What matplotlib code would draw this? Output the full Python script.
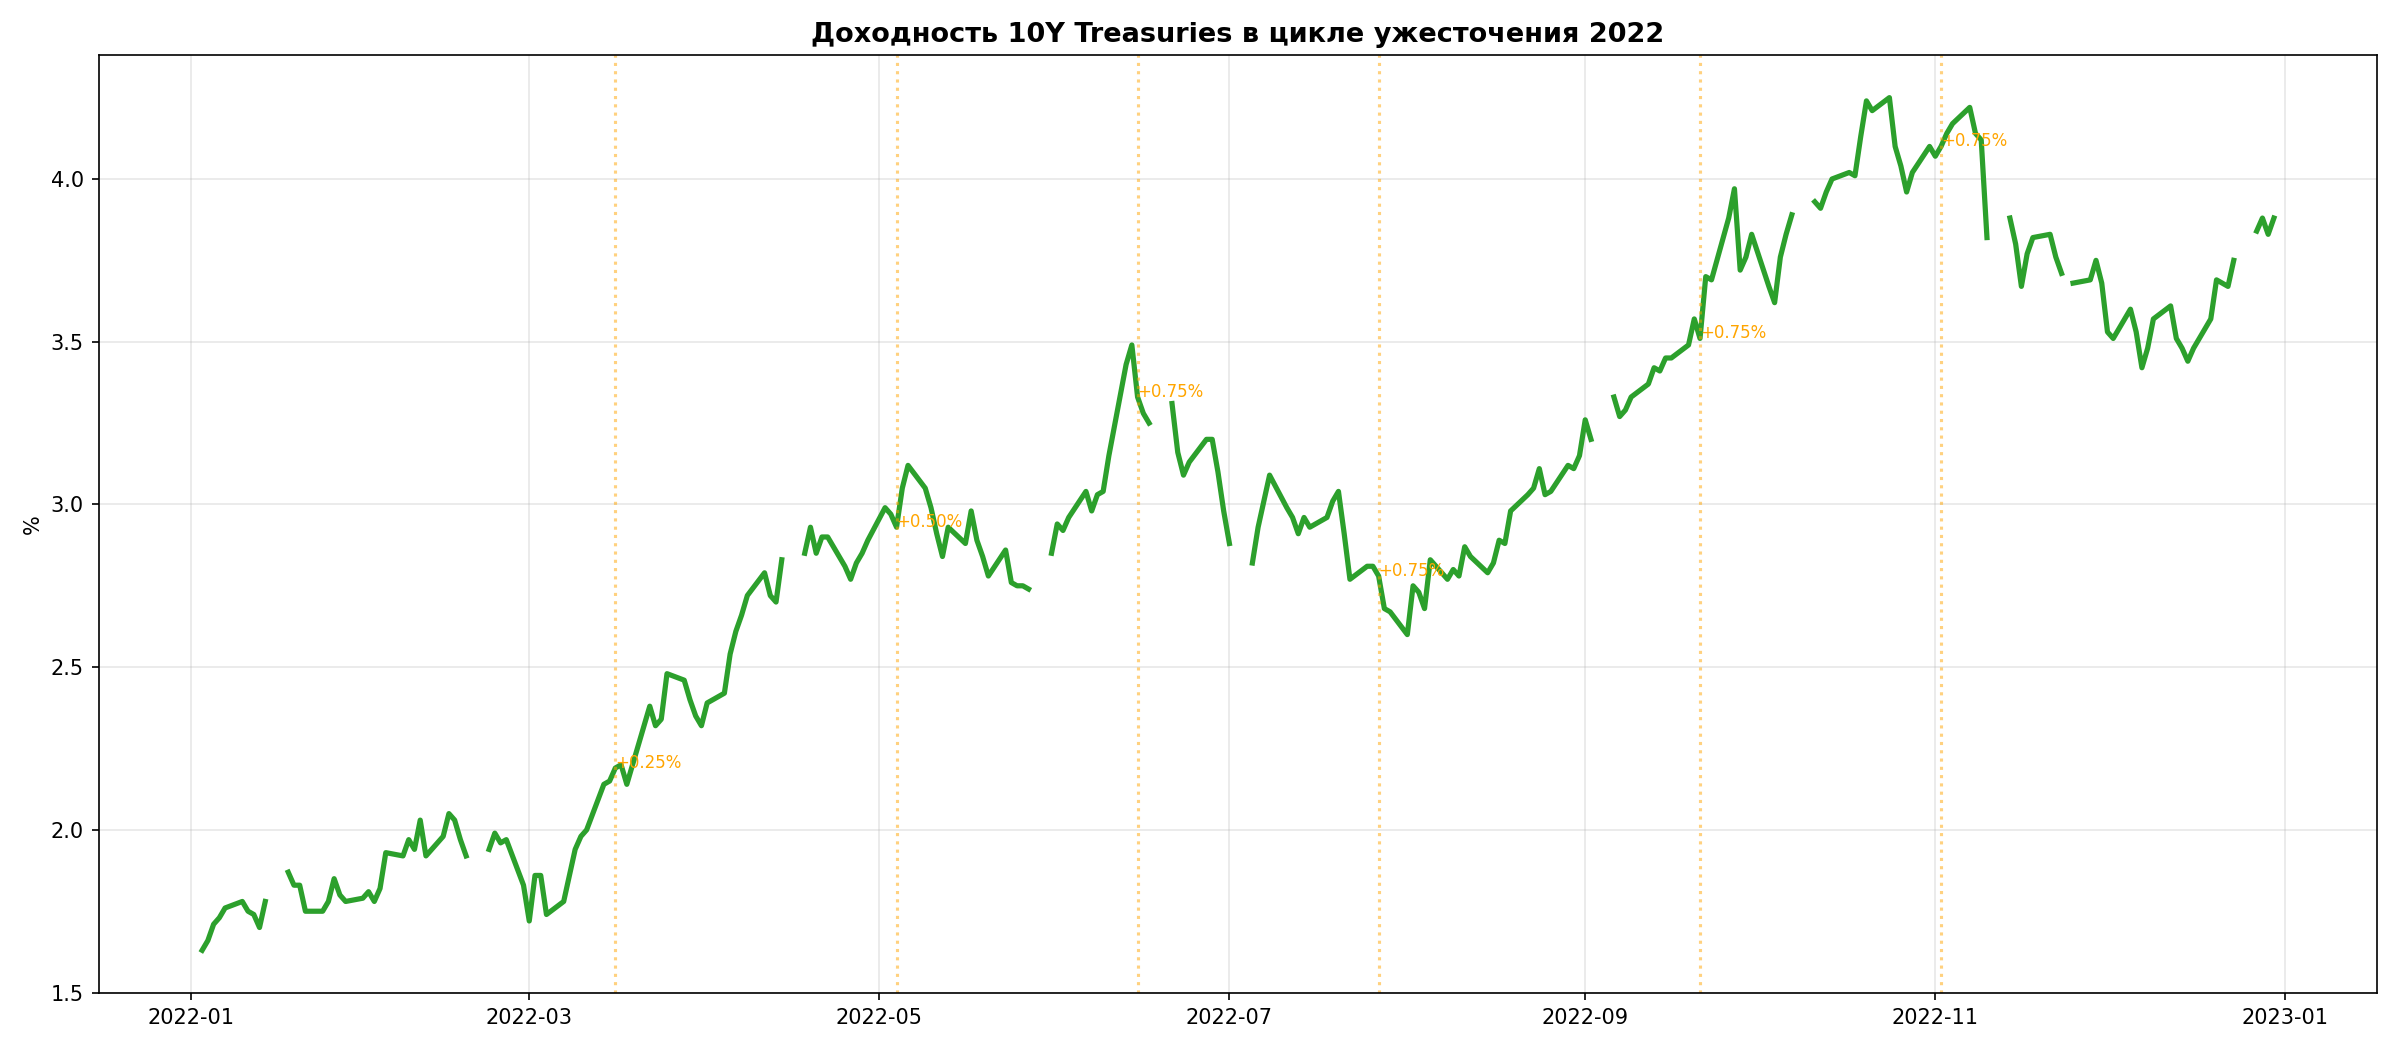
import numpy as np
import pandas as pd
import matplotlib
matplotlib.use("Agg")
from matplotlib import pyplot as plt

nan = np.nan

# 10Y Treasury yield, business days of each month (nan = market holiday)
jan = [1.63, 1.66, 1.71, 1.73, 1.76, 1.78, 1.75, 1.74, 1.70, 1.78, nan,
       1.87, 1.83, 1.83, 1.75, 1.75, 1.78, 1.85, 1.80, 1.78, 1.79]
feb = [1.81, 1.78, 1.82, 1.93, 1.92, 1.97, 1.94, 2.03, 1.92, 1.98,
       2.05, 2.03, 1.97, 1.92, nan, 1.94, 1.99, 1.96, 1.97, 1.83]
mar = [1.72, 1.86, 1.86, 1.74, 1.78, 1.86, 1.94, 1.98, 2.00, 2.14, 2.15, 2.19,
       2.20, 2.14, 2.32, 2.38, 2.32, 2.34, 2.48, 2.46, 2.40, 2.35, 2.32]
apr = [2.39, 2.42, 2.54, 2.61, 2.66, 2.72, 2.79, 2.72, 2.70, 2.83, nan,
       2.85, 2.93, 2.85, 2.90, 2.90, 2.81, 2.77, 2.82, 2.85, 2.89]
may = [2.99, 2.97, 2.93, 3.05, 3.12, 3.05, 2.99, 2.91, 2.84, 2.93, 2.88,
       2.98, 2.89, 2.84, 2.78, 2.86, 2.76, 2.75, 2.75, 2.74, nan, 2.85]
jun = [2.94, 2.92, 2.96, 3.04, 2.98, 3.03, 3.04, 3.15, 3.43, 3.49, 3.33,
       3.28, 3.25, nan, 3.31, 3.16, 3.09, 3.13, 3.20, 3.20, 3.10, 2.98]
jul = [2.88, nan, 2.82, 2.93, 3.01, 3.09, 2.99, 2.96, 2.91, 2.96, 2.93,
       2.96, 3.01, 3.04, 2.91, 2.77, 2.81, 2.81, 2.78, 2.68, 2.67]
aug = [2.60, 2.75, 2.73, 2.68, 2.83, 2.77, 2.80, 2.78, 2.87, 2.84, 2.79, 2.82,
       2.89, 2.88, 2.98, 3.03, 3.05, 3.11, 3.03, 3.04, 3.12, 3.11, 3.15]
sep = [3.26, 3.20, nan, 3.33, 3.27, 3.29, 3.33, 3.37, 3.42, 3.41, 3.45,
       3.45, 3.49, 3.57, 3.51, 3.70, 3.69, 3.88, 3.97, 3.72, 3.76, 3.83]
oct_ = [3.67, 3.62, 3.76, 3.83, 3.89, nan, 3.93, 3.91, 3.96, 4.00, 4.02,
        4.01, 4.13, 4.24, 4.21, 4.25, 4.10, 4.04, 3.96, 4.02, 4.10]
nov = [4.07, 4.10, 4.14, 4.17, 4.22, 4.14, 4.12, 3.82, nan, 3.88, 3.80,
       3.67, 3.77, 3.82, 3.83, 3.76, 3.71, nan, 3.68, 3.69, 3.75, 3.68]
dec = [3.53, 3.51, 3.60, 3.53, 3.42, 3.48, 3.57, 3.61, 3.51, 3.48, 3.44,
       3.48, 3.57, 3.69, 3.68, 3.67, 3.75, nan, 3.84, 3.88, 3.83, 3.88]

months = [jan, feb, mar, apr, may, jun, jul, aug, sep, oct_, nov, dec]

# Fed hikes
hike_dates = ["2022-03-16", "2022-05-04", "2022-06-15",
              "2022-07-27", "2022-09-21", "2022-11-02"]
hike_labels = ["+0.25%", "+0.50%", "+0.75%", "+0.75%", "+0.75%", "+0.75%"]

dates = []
for m, vals in enumerate(months, start=1):
    start = pd.Timestamp(2022, m, 1)
    d = pd.bdate_range(start, start + pd.offsets.MonthEnd(0))
    assert len(d) == len(vals), (m, len(d), len(vals))
    dates.extend(d)
ylds = pd.Series(np.concatenate(months), index=pd.DatetimeIndex(dates))

fig, ax = plt.subplots(figsize=(16, 7), dpi=150)
ax.plot(ylds.index, ylds.values, color="#2ca02c", lw=2.5)

for d, lab in zip(hike_dates, hike_labels):
    d = pd.Timestamp(d)
    ax.axvline(d, color="orange", ls=":", lw=1.5, alpha=0.5)
    ax.text(d, ylds[d], lab, color="orange", fontsize=8)

ax.set_title("Доходность 10Y Treasuries в цикле ужесточения 2022", fontweight="bold", fontsize=13)
ax.set_ylabel("%")
ax.grid(alpha=0.3)
fig.tight_layout()
fig.savefig("out.png")
